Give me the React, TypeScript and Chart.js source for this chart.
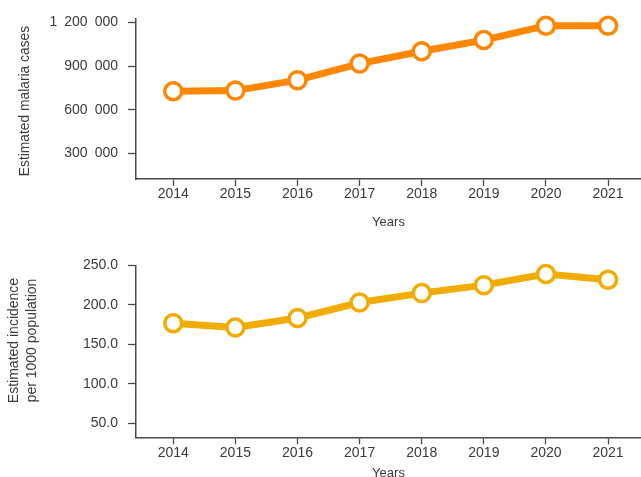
import React, { useEffect, useRef } from "react";
import { Chart, registerables } from "chart.js";

Chart.register(...registerables);

const years = [2014, 2015, 2016, 2017, 2018, 2019, 2020, 2021];
const cases = [726000, 731000, 803000, 917000, 1001000, 1078000, 1177000, 1177000];
const incidence = [176.8, 171.3, 183.2, 202.9, 214.8, 224.9, 238.9, 231.6];
const casesTicks = [300000, 600000, 900000, 1200000];
const incidenceTicks = [50, 100, 150, 200, 250];
const casesTitle = ["Estimated malaria cases"];
const incidenceTitle = ["Estimated incidence", "per 1000 population"];

const FONT = "'Liberation Sans', Arial, Helvetica, sans-serif";
const AXIS = "#4a4a4a";
const TEXT = "#3a3a3a";

function fmtSpace(v: number) {
  return String(Math.round(v)).replace(/\B(?=(\d{3})+(?!\d))/g, "\u2002");
}

function makeConfig(opts: {
  data: number[];
  color: string;
  yMin: number;
  yMax: number;
  yTicks: number[];
  yFmt: (v: number) => string;
  yTitle: string[];
  yTitleX: number;
  yTitleY: number;
  yTitleSize: number;
  yTitleLine: number;
  padTop: number;
  xAxisHeight: number;
  xTitlePadBottom: number;
}) {
  const titlePlugin = {
    id: "yTitleText",
    afterDraw(chart: any) {
      const ctx = chart.ctx;
      ctx.save();
      ctx.font = `${opts.yTitleSize}px ${FONT}`;
      ctx.fillStyle = TEXT;
      ctx.textAlign = "center";
      ctx.textBaseline = "middle";
      opts.yTitle.forEach((line, i) => {
        ctx.save();
        ctx.translate(opts.yTitleX + i * opts.yTitleLine, opts.yTitleY);
        ctx.rotate(-Math.PI / 2);
        ctx.fillText(line, 0, 0);
        ctx.restore();
      });
      ctx.restore();
    },
  };
  return {
    type: "line" as const,
    plugins: [titlePlugin],
    data: {
      datasets: [
        {
          data: years.map((y, i) => ({ x: y, y: opts.data[i] })),
          borderColor: opts.color,
          borderWidth: 7,
          pointRadius: 8.5,
          pointBorderWidth: 3.5,
          pointBackgroundColor: "#ffffff",
          pointBorderColor: opts.color,
          tension: 0,
          clip: false as const,
        },
      ],
    },
    options: {
      animation: false as const,
      responsive: false,
      maintainAspectRatio: false,
      layout: { autoPadding: false, padding: { top: opts.padTop, left: 0, right: 0, bottom: 0 } },
      plugins: { legend: { display: false }, tooltip: { enabled: false } },
      scales: {
        x: {
          type: "linear" as const,
          min: 2013.4,
          max: 2021.53,
          afterBuildTicks: (s: any) => {
            s.ticks = years.map((v) => ({ value: v }));
          },
          afterFit: (s: any) => {
            s.height = opts.xAxisHeight;
          },
          ticks: {
            callback: (v: any) => String(v),
            font: { family: FONT, size: 14 },
            color: TEXT,
            padding: 0,
            autoSkip: false,
            maxRotation: 0,
          },
          grid: {
            drawOnChartArea: false,
            drawTicks: true,
            tickLength: 7,
            tickColor: AXIS,
            tickWidth: 1.3,
          },
          border: { display: true, color: AXIS, width: 1.5 },
          title: {
            display: true,
            text: "Years",
            font: { family: FONT, size: 13 },
            color: TEXT,
            padding: { top: 0, bottom: opts.xTitlePadBottom },
          },
        },
        y: {
          type: "linear" as const,
          min: opts.yMin,
          max: opts.yMax,
          afterBuildTicks: (s: any) => {
            s.ticks = opts.yTicks.map((v) => ({ value: v }));
          },
          afterFit: (s: any) => {
            s.width = 136;
          },
          ticks: {
            callback: (v: any) => opts.yFmt(Number(v)),
            font: { family: FONT, size: 14 },
            color: TEXT,
            padding: 10,
          },
          grid: {
            drawOnChartArea: false,
            drawTicks: true,
            tickLength: 8,
            tickColor: AXIS,
            tickWidth: 1.3,
          },
          border: { display: true, color: AXIS, width: 1.5 },
          title: { display: false },
        },
      },
    },
  };
}

function ChartCanvas(props: { width: number; height: number; top: number; config: any }) {
  const ref = useRef<HTMLCanvasElement | null>(null);
  useEffect(() => {
    if (!ref.current) return;
    const chart = new Chart(ref.current, props.config);
    return () => chart.destroy();
  }, []);
  return (
    <canvas
      ref={ref}
      width={props.width}
      height={props.height}
      style={{
        position: "absolute",
        left: 0,
        top: props.top,
        width: props.width,
        height: props.height,
        display: "block",
      }}
    />
  );
}

export default function App() {
  const topCfg = makeConfig({
    data: cases,
    color: "#FF8600",
    yMin: 124000,
    yMax: 1227000,
    yTicks: casesTicks,
    yFmt: fmtSpace,
    yTitle: casesTitle,
    yTitleX: 25,
    yTitleY: 101,
    yTitleSize: 13.8,
    yTitleLine: 0,
    padTop: 16,
    xAxisHeight: 232 - 179,
    xTitlePadBottom: 2,
  });
  const botCfg = makeConfig({
    data: incidence,
    color: "#F0AC00",
    yMin: 32.3,
    yMax: 250,
    yTicks: incidenceTicks,
    yFmt: (v) => v.toFixed(1),
    yTitle: incidenceTitle,
    yTitleX: 14,
    yTitleY: 340.5 - 232,
    yTitleSize: 14,
    yTitleLine: 17.7,
    padTop: 265.3 - 232,
    xAxisHeight: 482 - 437.3,
    xTitlePadBottom: 1,
  });
  return (
    <div
      style={{
        position: "absolute",
        left: 0,
        top: 0,
        width: 641,
        height: 477,
        overflow: "hidden",
        background: "#ffffff",
      }}
    >
      <ChartCanvas width={641} height={232} top={0} config={topCfg} />
      <ChartCanvas width={641} height={250} top={232} config={botCfg} />
    </div>
  );
}
